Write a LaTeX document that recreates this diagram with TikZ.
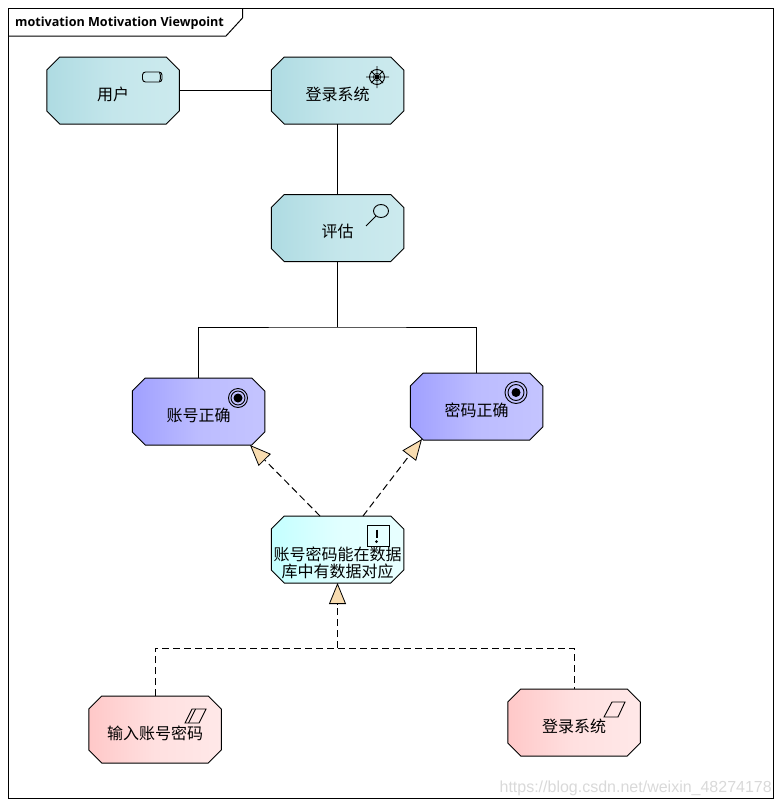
\documentclass[tikz,border=0pt]{standalone}
\usepackage{fontspec}
\setmainfont{Open Sans}
\newfontfamily\cjk{Noto Sans CJK SC}
\newfontfamily\wm{Liberation Sans}
\usetikzlibrary{arrows.meta,backgrounds}
\definecolor{tealA}{HTML}{AEDBE2}\definecolor{tealB}{HTML}{C4E6EB}\definecolor{tealC}{HTML}{CCEAEE}
\definecolor{goalA}{HTML}{A0A0FF}\definecolor{goalB}{HTML}{BCBCFF}\definecolor{goalC}{HTML}{C4C4FF}
\definecolor{reqA}{HTML}{C4FFFF}\definecolor{reqB}{HTML}{E0FFFF}\definecolor{reqC}{HTML}{E8FFFF}
\definecolor{pinkA}{HTML}{FFC8C8}\definecolor{pinkB}{HTML}{FFE0E0}\definecolor{pinkC}{HTML}{FFE8E8}
\definecolor{tipfill}{HTML}{F8DCB0}
\pgfdeclarehorizontalshading{tealgrad}{100bp}{color(0bp)=(tealA);color(25bp)=(tealA);color(50bp)=(tealB);color(75bp)=(tealC);color(100bp)=(tealC)}
\pgfdeclarehorizontalshading{goalgrad}{100bp}{color(0bp)=(goalA);color(25bp)=(goalA);color(50bp)=(goalB);color(75bp)=(goalC);color(100bp)=(goalC)}
\pgfdeclarehorizontalshading{reqgrad}{100bp}{color(0bp)=(reqA);color(25bp)=(reqA);color(50bp)=(reqB);color(75bp)=(reqC);color(100bp)=(reqC)}
\pgfdeclarehorizontalshading{pinkgrad}{100bp}{color(0bp)=(pinkA);color(25bp)=(pinkA);color(50bp)=(pinkB);color(75bp)=(pinkC);color(100bp)=(pinkC)}
\newcommand{\lbl}[1]{\makebox[0pt][c]{\smash{\raisebox{-9.5pt}{\cjk #1}}}}
\newcommand{\octa}[4]{%
  \node[element] (#1) at (#3) {#4};
  \begin{scope}[on background layer]
  \shadedraw[line width=1pt,draw=black,shading=#2]
    ([xshift=13pt]#1.north west) -- ([xshift=-13pt]#1.north east)
    -- ([yshift=-13pt]#1.north east) -- ([yshift=13pt]#1.south east)
    -- ([xshift=-13pt]#1.south east) -- ([xshift=13pt]#1.south west)
    -- ([yshift=13pt]#1.south west) -- ([yshift=-13pt]#1.north west) -- cycle;
  \end{scope}}
\tikzset{
  element/.style={rectangle,minimum width=132.5pt,minimum height=67pt,inner sep=0pt,outer sep=0pt,
    font=\fontsize{16pt}{17pt}\selectfont},
  conn/.style={line width=1pt,draw=black},
  dconn/.style={line width=1pt,draw=black,dash pattern=on 7pt off 4pt},
  realize/.style={dconn,-{Triangle[length=21pt,width=17pt,fill=tipfill,line width=0.8pt]}},
  icon/.style={line width=0.9pt,draw=black},
}
\begin{document}
\begin{tikzpicture}[x=1pt,y=-1pt]
\useasboundingbox (0,0) rectangle (781,806);
% frame
\draw[line width=1pt] (8.5,8.5) rectangle (773,798);
\draw[line width=1pt] (8.5,36) -- (226,36) -- (242.5,18) -- (242.5,8.5);
\node[anchor=west,inner sep=0pt,font=\fontsize{12.6pt}{15pt}\selectfont\bfseries] (title) at (15,23.5) {motivation Motivation Viewpoint};
% elements
\octa{user}{tealgrad}{113,90.5}{\lbl{用户}}
\octa{sys}{tealgrad}{337.5,90.5}{\lbl{登录系统}}
\octa{eval}{tealgrad}{337.5,228}{\lbl{评估}}
\octa{acc}{goalgrad}{198.5,411.5}{\lbl{账号正确}}
\octa{pwd}{goalgrad}{476.5,406.5}{\lbl{密码正确}}
\octa{cons}{reqgrad}{337.5,549.5}{\makebox[0pt][c]{\smash{\raisebox{-27.5pt}{\parbox[b]{140pt}{\centering\cjk 账号密码能在数据\\库中有数据对应}}}}}
\octa{inp}{pinkgrad}{155,729.5}{\lbl{输入账号密码}}
\octa{log}{pinkgrad}{574,722.5}{\lbl{登录系统}}
% connectors
\coordinate (fork) at (337.5,327);
\coordinate (merge) at (337.5,648);
\coordinate (consL) at (320,516);
\coordinate (accTip) at (250,445);
\coordinate (consR) at (363,516);
\coordinate (pwdTip) at (422,439);
\draw[conn] (user.east) -- (sys.west);
\draw[conn] (sys.south) -- (eval.north);
\draw[conn] (eval.south) -- (fork);
\draw[conn] (acc.north) |- (fork) -| (pwd.north);
\draw[realize] (consL) -- (accTip);
\draw[realize] (consR) -- (pwdTip);
\draw[realize] (merge) -- (cons.south);
\draw[dconn] (inp.north) |- (merge) -| (log.north);
% icons
\draw[icon,rounded corners=3pt] (142.5,72) rectangle (162,82);
\draw[icon] (159.5,72.5) .. controls (160.8,75) and (160.8,79) .. (159.5,81.5);
\draw[icon] (377,77) circle[radius=7.5];
\draw[icon] (366,77) -- (389,77) (377,66) -- (377,88) (371,71) -- (383,83) (371,83) -- (383,71);
\draw[line width=0.6pt] (377,77) circle[radius=3.8];
\fill (377,77) circle[radius=2.5];
\draw[icon] (381,211) circle[x radius=7.5,y radius=6.5];
\draw[icon] (376,216) -- (366,226);
\draw[icon] (238,398) circle[radius=9.5] (238,398) circle[radius=7];
\fill (238,398) circle[radius=4.5];
\draw[icon] (516,392.5) circle[radius=11] (516,392.5) circle[radius=8];
\fill (516,392.5) circle[radius=4.5];
\draw[icon] (367,525) rectangle (389,546);
\draw[line width=2pt] (376.5,529.5) -- (376.5,538);
\fill (376.5,541.5) circle[radius=1.5];
\draw[icon] (192,709) -- (206,709) -- (199,723) -- (185,723) -- cycle;
\draw[icon] (195.5,709) -- (188.5,723);
\draw[icon] (612,702) -- (625,702) -- (618,717) -- (604,717) -- cycle;
% watermark
\node[anchor=east,inner sep=0pt,text=black!15,font=\wm\fontsize{16pt}{18pt}\selectfont] (wmark) at (772,788) {https://blog.csdn.net/weixin\_48274178};
\end{tikzpicture}
\end{document}
